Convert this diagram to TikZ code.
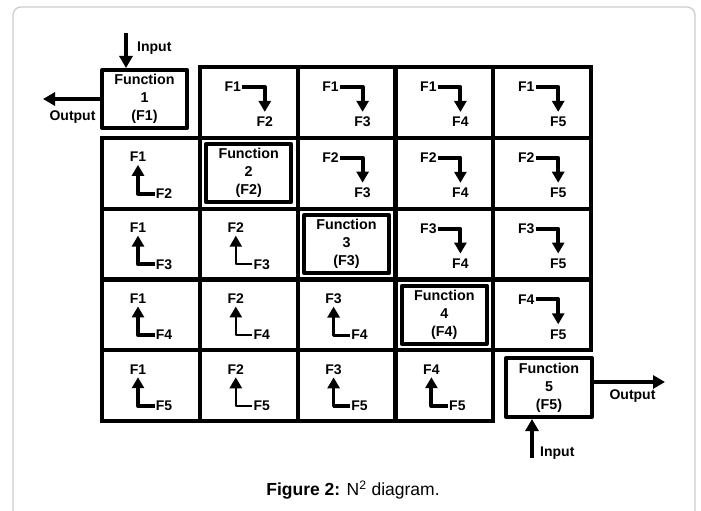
\documentclass[tikz,border=0pt]{standalone}
\usepackage{fontspec}
\setmainfont{Liberation Sans}
\usepackage{tikz}
\usetikzlibrary{arrows.meta,calc}

\newcommand{\lblfont}{\fontsize{14}{15}\selectfont\bfseries}
\newcommand{\fnfont}{\fontsize{14.3}{18}\selectfont\bfseries}
\definecolor{framegray}{RGB}{205,205,205}

\tikzset{
  cellbox/.style={draw,line width=4.2pt,line join=miter},
  fnbox/.style={draw,line width=4pt,align=center,font=\fnfont,inner sep=0pt},
  lbl/.style={font=\lblfont,inner sep=1pt},
  flow/.style={line width=#1,-{Triangle[length=11pt,width=12pt]}},
  io/.style={line width=4pt,-{Triangle[length=12pt,width=13pt]}},
}

\begin{document}
\begin{tikzpicture}[x=1pt,y=-1pt,line join=round]
  \useasboundingbox (0,0) rectangle (701,511);
  \clip (0,0) rectangle (701,511);
  % page frame
  \draw[framegray,line width=1.3pt,rounded corners=8pt] (13,540) -- (13,7) -- (695,7) -- (695,540);

  % grid cells
  \foreach \r/\c in {1/2,1/3,1/4,1/5,2/1,2/2,2/3,2/4,2/5,3/1,3/2,3/3,3/4,3/5,
                     4/1,4/2,4/3,4/4,4/5,5/1,5/2,5/3,5/4}
    \draw[cellbox] ({102+97.8*(\c-1)},{67+70.8*(\r-1)}) rectangle ++(97.8,70.8);

  % outputs above the diagonal
  \foreach \r/\c in {1/2,1/3,1/4,1/5,2/3,2/4,2/5,3/4,3/5,4/5}{
    \node[lbl] (s\r\c) at ({102+97.8*(\c-1)+33},{67+70.8*(\r-1)+20}) {F\r};
    \node[lbl] (d\r\c) at ({102+97.8*(\c-1)+65},{67+70.8*(\r-1)+55}) {F\c};
    \draw[flow=4pt,shorten >=4pt] (s\r\c.east) -| (d\r\c.north);
  }

  % feedback below the diagonal
  \foreach \r/\c/\w in {2/1/4,3/1/4,4/1/4,5/1/4,3/2/2.2,4/2/2.6,5/2/2.6,
                        4/3/2.8,5/3/3.2,5/4/4}{
    \node[lbl] (s\r\c) at ({102+97.8*(\c-1)+36},{67+70.8*(\r-1)+19}) {F\c};
    \node[lbl] (d\r\c) at ({102+97.8*(\c-1)+62},{67+70.8*(\r-1)+55.7}) {F\r};
    \draw[flow=\w pt,shorten >=2pt] (d\r\c.west) -| (s\r\c.south);
  }

  % functions on the diagonal
  \node[fnbox,minimum width=85pt,minimum height=58pt] (f1) at (144.5,99) {Function\\1\\(F1)};
  \node[fnbox,minimum width=85pt,minimum height=58pt] (f2) at (248.7,173.2) {Function\\2\\(F2)};
  \node[fnbox,minimum width=85pt,minimum height=58pt] (f3) at (346.5,244) {Function\\3\\(F3)};
  \node[fnbox,minimum width=85pt,minimum height=58pt] (f4) at (444.3,314.8) {Function\\4\\(F4)};
  \node[fnbox,minimum width=86pt,minimum height=59pt] (f5) at (549,387.5) {Function\\5\\(F5)};

  % external input / output
  \coordinate (in1) at (126,33);
  \coordinate (out1) at (43,99);
  \coordinate (in5) at (532,458);
  \coordinate (out5) at (665,382);
  \draw[io] (in1) -- (in1 |- f1.north);
  \draw[io] (f1.west) -- (out1);
  \draw[io] (in5) -- (in5 |- f5.south);
  \draw[io] (f5.east |- out5) -- (out5);
  \node[lbl,anchor=west] (tin1) at (136,48) {Input};
  \node[lbl] (tout1) at (72.5,117) {Output};
  \node[lbl,anchor=west] (tin5) at (539,453) {Input};
  \node[lbl] (tout5) at (632.5,396) {Output};

  \node[font=\fontsize{17.5}{20}\selectfont] (cap) at (353,490)
    {\textbf{Figure 2:} N\textsuperscript{2} diagram.};
\end{tikzpicture}
\end{document}
